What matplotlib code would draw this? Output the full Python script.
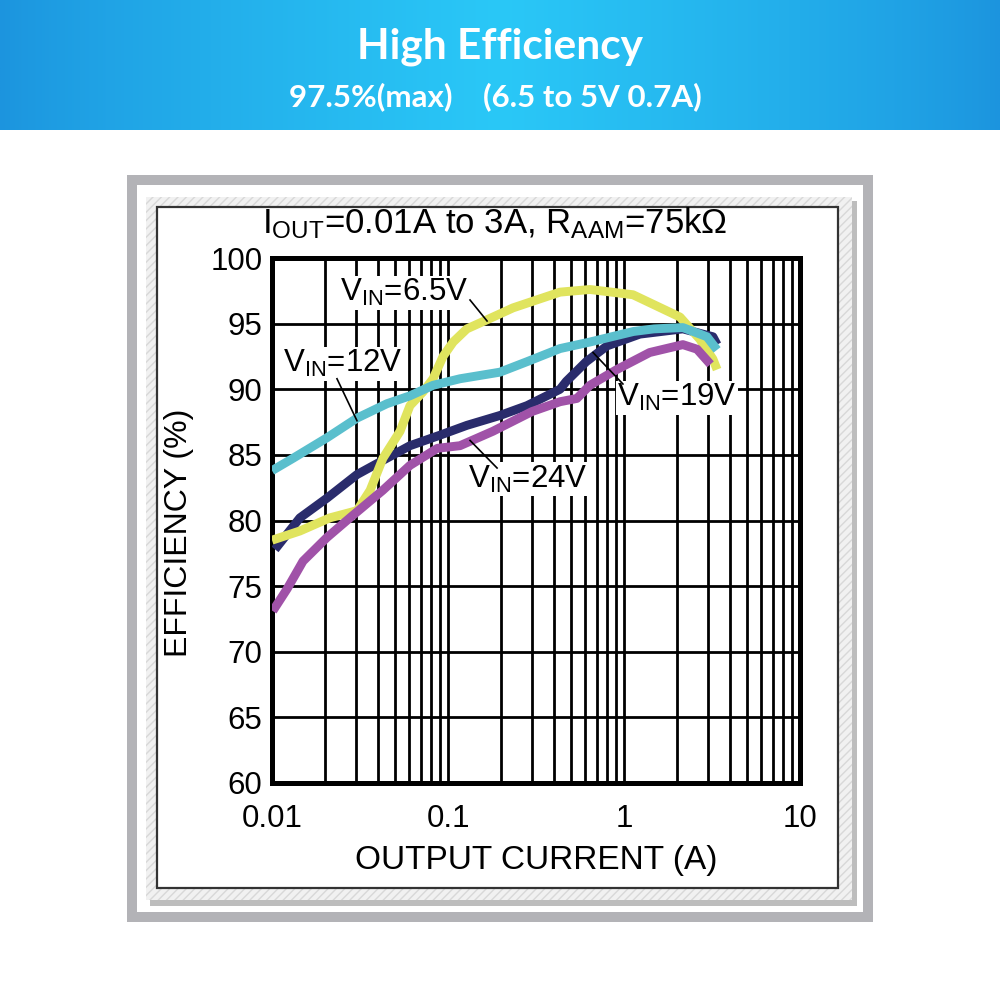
import numpy as np
import matplotlib
matplotlib.use("Agg")
import matplotlib.pyplot as plt
from matplotlib.patches import Rectangle

plt.rcParams['font.family'] = ['Liberation Sans', 'DejaVu Sans']
plt.rcParams['mathtext.fontset'] = 'custom'
plt.rcParams['mathtext.rm'] = 'Liberation Sans'
plt.rcParams['mathtext.it'] = 'Liberation Sans'

# ---------------- data ----------------
i_65 = [0.010, 0.0144, 0.0213, 0.0304, 0.0361, 0.0427, 0.0534, 0.0608, 0.0721, 0.0822,
        0.0937, 0.107, 0.128, 0.167, 0.234, 0.433, 0.641, 1.125, 2.08, 2.70, 3.20, 3.38]
e_65 = [78.5, 79.2, 80.2, 80.75, 82.3, 84.75, 86.8, 88.75, 89.8, 90.8,
        92.5, 93.6, 94.6, 95.3, 96.2, 97.4, 97.6, 97.2, 95.5, 93.8, 92.3, 91.5]

i_12 = [0.010, 0.0132, 0.0205, 0.0304, 0.045, 0.0608, 0.0822, 0.117, 0.197, 0.281,
        0.433, 0.641, 1.13, 1.48, 2.16, 2.96, 3.38]
e_12 = [83.8, 84.75, 86.3, 87.8, 88.9, 89.5, 90.3, 90.8, 91.3, 92.1,
        93.1, 93.6, 94.4, 94.6, 94.7, 94.0, 93.0]

i_19 = [0.0104, 0.0144, 0.0205, 0.0304, 0.045, 0.0608, 0.090, 0.128, 0.197, 0.281,
        0.433, 0.47, 0.61, 0.80, 1.23, 2.16, 3.2, 3.38]
e_19 = [77.8, 80.2, 81.7, 83.5, 84.75, 85.7, 86.5, 87.25, 88.0, 88.75,
        90.0, 90.6, 92.1, 93.3, 94.2, 94.6, 94.0, 93.4]

i_24 = [0.0101, 0.0122, 0.015, 0.0205, 0.0277, 0.0426, 0.0608, 0.087, 0.117, 0.18,
        0.30, 0.433, 0.54, 0.64, 0.91, 1.40, 2.16, 2.6, 3.1]
e_24 = [73.1, 74.8, 76.9, 78.7, 80.2, 82.3, 84.2, 85.5, 85.7, 86.8,
        88.3, 89.05, 89.3, 90.3, 91.5, 92.8, 93.4, 93.05, 91.9]

x_ticks = [0.01, 0.1, 1, 10]
x_ticklabels = ['0.01', '0.1', '1', '10']
y_ticks = [60, 65, 70, 75, 80, 85, 90, 95, 100]

title = 'High Efficiency'
subtitle = '97.5%(max)    (6.5 to 5V 0.7A)'
cond = r'I$_{\mathregular{OUT}}$=0.01A to 3A, R$_{\mathregular{AAM}}$=75kΩ'

# ---------------- figure ----------------
fig = plt.figure(figsize=(10, 10), dpi=100)
fig.patch.set_facecolor('white')

def px_rect(x0, y0, x1, y1, **kw):
    r = Rectangle((x0 / 1000, 1 - y1 / 1000), (x1 - x0) / 1000, (y1 - y0) / 1000,
                  transform=fig.transFigure, **kw)
    fig.add_artist(r)
    return r

# banner with horizontal gradient
bax = fig.add_axes([0, 0.87, 1, 0.13])
xs = np.linspace(0, 1, 600)
t = np.clip(1 - np.abs(xs - 0.5) * 2, 0, 1) ** 0.8
c_edge = np.array([28, 148, 222]) / 255
c_mid = np.array([42, 200, 247]) / 255
grad = c_edge[None, :] + (c_mid - c_edge)[None, :] * t[:, None]
bax.imshow(grad[None, :, :], aspect='auto', extent=[0, 1, 0, 1])
bax.axis('off')
fig.text(0.5, 1 - 0.047, title, ha='center', va='center', color='white',
         fontsize=30.5, fontweight='bold', family=['Lato', 'DejaVu Sans'])
fig.text(0.495, 1 - 0.097, subtitle, ha='center', va='center', color='white',
         fontsize=22.5, fontweight='bold', family=['Lato', 'DejaVu Sans'])

# picture frame
px_rect(127, 175, 873, 922, facecolor='#b3b3b7', edgecolor='none', zorder=-10)
px_rect(137, 185, 863, 912, facecolor='white', edgecolor='none', zorder=-9)
px_rect(150, 201, 857, 906, facecolor='#bdbdbd', edgecolor='none', zorder=-8)
px_rect(146, 197, 852, 900, facecolor='#f1f1f1', edgecolor='#d8d8d8', hatch='////',
        linewidth=0, zorder=-7)
px_rect(157, 207, 838, 888, facecolor='white', edgecolor='#333333', linewidth=1.6, zorder=-6)

# main axes
ax = fig.add_axes([0.272, 0.217, 0.528, 0.525])
ax.set_xscale('log')
ax.set_xlim(0.01, 10)
ax.set_ylim(60, 100)
ax.set_xticks(x_ticks)
ax.set_xticklabels(x_ticklabels)
ax.set_xticks([m * d for d in (0.01, 0.1, 1) for m in range(2, 10)], minor=True)
ax.set_yticks(y_ticks)
ax.set_yticklabels([str(v) for v in y_ticks])
ax.tick_params(which='both', length=0)
ax.tick_params(axis='x', pad=15, labelsize=22.5)
ax.tick_params(axis='y', pad=7, labelsize=22.5)
ax.set_axisbelow(True)
ax.grid(which='both', axis='x', color='black', linewidth=2.0)
ax.grid(which='major', axis='y', color='black', linewidth=2.0)
for s in ax.spines.values():
    s.set_linewidth(3.6)
    s.set_color('black')

series = [
    (i_19, e_19, '#2a2c6c'),
    (i_65, e_65, '#e0e45e'),
    (i_24, e_24, '#a052a8'),
    (i_12, e_12, '#5abfcd'),
]
for xi, yi, c in series:
    ax.plot(xi, yi, color=c, linewidth=6.4, solid_capstyle='butt',
            solid_joinstyle='round', zorder=3)

labels = [
    (r'V$_{\mathregular{IN}}$=6.5V', (0.0243, 96.7), (0.1334, 96.8), (0.1667, 95.2)),
    (r'V$_{\mathregular{IN}}$=12V', (0.01155, 91.3), (0.0234, 90.8), (0.0304, 87.6)),
    (r'V$_{\mathregular{IN}}$=19V', (0.912, 88.7), (0.667, 92.8), (0.986, 90.4)),
    (r'V$_{\mathregular{IN}}$=24V', (0.130, 82.5), (0.1334, 86.1), (0.190, 84.0)),
]
for txt, pos, p0, p1 in labels:
    ax.text(pos[0], pos[1], txt, ha='left', va='baseline', fontsize=22.5, zorder=4,
            bbox=dict(facecolor='white', edgecolor='none', pad=1.0))
    ax.plot([p0[0], p1[0]], [p0[1], p1[1]], color='black', linewidth=1.2, zorder=5)

ax.set_xlabel('OUTPUT CURRENT (A)', fontsize=24)
ax.xaxis.set_label_coords(0.5, -0.118)
ax.xaxis.label.set_va('top')
ax.set_ylabel('EFFICIENCY (%)', fontsize=23)
ax.yaxis.set_label_coords(-0.176, 0.476)
ax.yaxis.label.set_va('center')

fig.text(0.495, 1 - 0.233, cond, ha='center', va='baseline', fontsize=25)

fig.savefig('out.png', dpi=100, facecolor='white')
